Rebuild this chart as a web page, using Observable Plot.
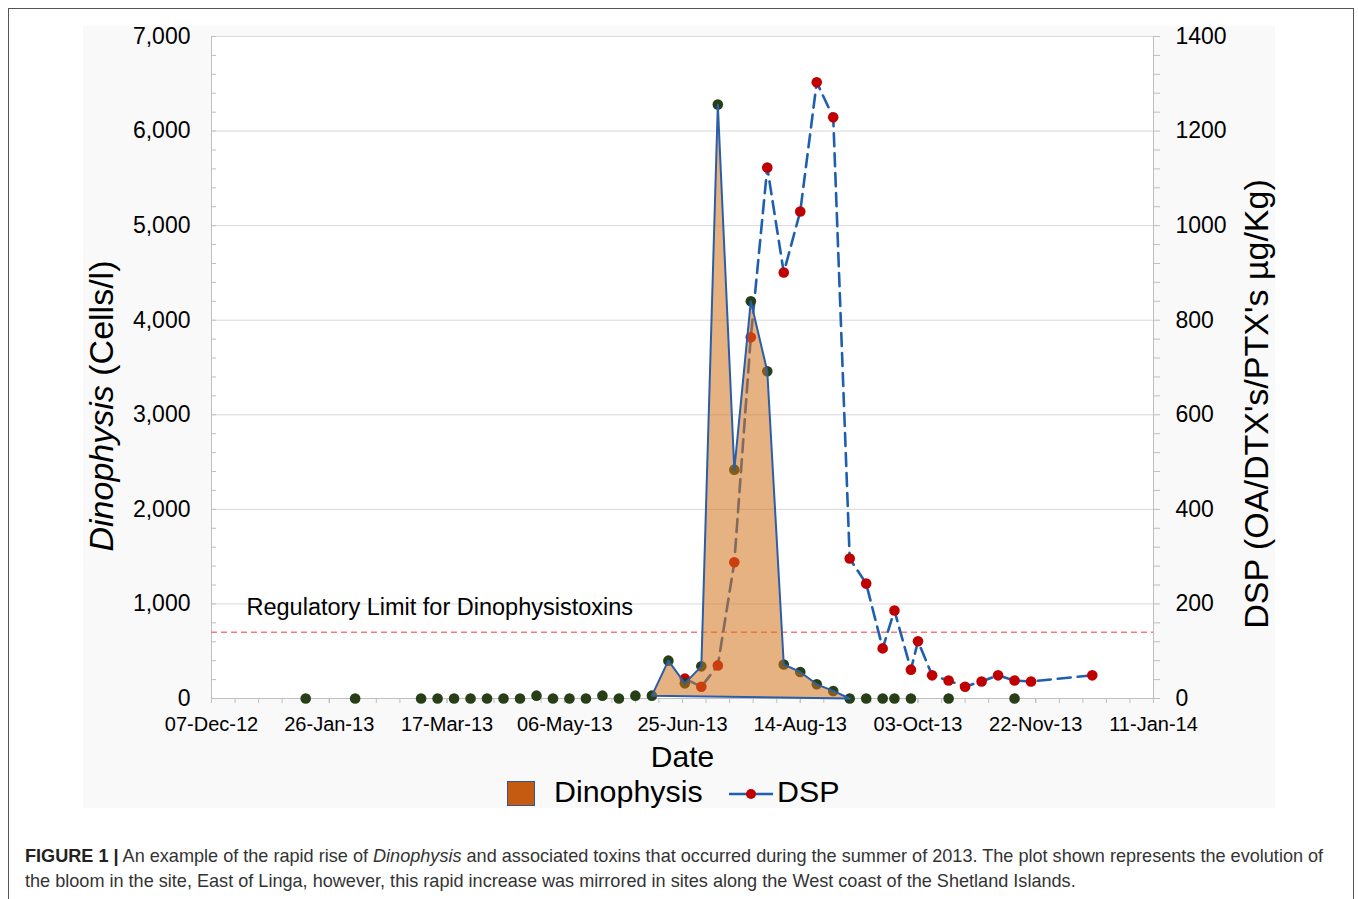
<!DOCTYPE html>
<html>
<head>
<meta charset="utf-8">
<script src="https://cdn.jsdelivr.net/npm/d3@7"></script>
<script src="https://cdn.jsdelivr.net/npm/@observablehq/plot@0.6"></script>
<style>
  body { margin: 0; background: #fff; font-family: 'Liberation Sans', Arial, sans-serif; }
  #frame { position: absolute; left: 8px; top: 8px; width: 1344px; height: 900px; border: 1px solid #555; border-bottom: none; }
  #panel { position: absolute; left: 83px; top: 26px; width: 1192px; height: 782px; background: #f9f9f9; }
  #chart { position: absolute; left: 0; top: -14px; }
  .ytitle { position: absolute; white-space: nowrap; transform: translate(-50%, -50%) rotate(-90deg); font-size: 34px; color: #000; }
  #legend { position: absolute; left: 0; top: 752px; width: 1192px; height: 30px; font-size: 30.4px; color: #000; }
  #caption { position: absolute; left: 25px; top: 844px; font-size: 18.1px; line-height: 25px; color: #333; white-space: nowrap; font-family: 'Liberation Sans', Arial, sans-serif; }
</style>
</head>
<body>
<div id="frame"></div>
<div id="panel">
  <div id="chart"></div>
  <div class="ytitle" style="left:18px; top:380px;"><i>Dinophysis</i> (Cells/l)</div>
  <div class="ytitle" style="left:1173px; top:378px;">DSP (OA/DTX's/PTX's µg/Kg)</div>
  <div id="legend">
    <div style="position:absolute; left:424px; top:3px; width:26px; height:23px; background:#c55a11; border:1.5px solid #2f5597;"></div>
    <div style="position:absolute; left:471px; top:-4px;">Dinophysis</div>
    <svg style="position:absolute; left:644px; top:4px;" width="50" height="24"><line x1="2" y1="12" x2="46" y2="12" stroke="#1f5fb0" stroke-width="2.5"/><circle cx="24" cy="12" r="5" fill="#c00000"/></svg>
    <div style="position:absolute; left:694px; top:-4px;">DSP</div>
  </div>
</div>
<div id="caption"><b style="color:#222">FIGURE 1 |</b> An example of the rapid rise of <i>Dinophysis</i> and associated toxins that occurred during the summer of 2013. The plot shown represents the evolution of<br>the bloom in the site, East of Linga, however, this rapid increase was mirrored in sites along the West coast of the Shetland Islands.</div>
<script>
// ---- data ----
const dinoDates = ["2013-01-16","2013-02-06","2013-03-06","2013-03-13","2013-03-20","2013-03-27","2013-04-03","2013-04-10","2013-04-17","2013-04-24","2013-05-01","2013-05-08","2013-05-15","2013-05-22","2013-05-29","2013-06-05","2013-06-12","2013-06-19","2013-06-26","2013-07-03","2013-07-10","2013-07-17","2013-07-24","2013-07-31","2013-08-07","2013-08-14","2013-08-21","2013-08-28","2013-09-04","2013-09-11","2013-09-18","2013-09-23","2013-09-30","2013-10-16","2013-11-13"];
const dinoValues = [0,0,0,0,0,0,0,0,0,30,0,0,0,30,0,30,30,400,160,340,6280,2420,4200,3460,360,280,150,80,0,0,0,0,0,0,0];
const bloomStart = "2013-06-12";
const bloomEnd = "2013-09-04";

const dspDates = ["2013-06-26","2013-07-03","2013-07-10","2013-07-17","2013-07-24","2013-07-31","2013-08-07","2013-08-14","2013-08-21","2013-08-28","2013-09-04","2013-09-11","2013-09-18","2013-09-23","2013-09-30","2013-10-03","2013-10-09","2013-10-16","2013-10-23","2013-10-30","2013-11-06","2013-11-13","2013-11-20","2013-12-16"];
const dspValues = [42,25,70,288,764,1123,901,1030,1303,1229,296,243,106,186,61,121,49,38,25,36,49,38,36,49];

const regLimitDSP = 140; // µg/kg, drawn on right axis
const regLabel = "Regulatory Limit for Dinophysistoxins";

const xStart = "2012-12-07";
const xEnd = "2014-01-11";
const leftTicks = [0,1000,2000,3000,4000,5000,6000,7000];
const rightTicks = [0,200,400,600,800,1000,1200,1400];
const axisRatio = 7000 / 1400; // left units per right unit

// ---- build ----
const parse = d3.utcParse("%Y-%m-%d");
const dino = dinoDates.map((d, i) => ({date: parse(d), value: dinoValues[i]}));
const dsp = dspDates.map((d, i) => ({date: parse(d), value: dspValues[i] * axisRatio}));
const bloom = dino.filter(d => d.date >= parse(bloomStart) && d.date <= parse(bloomEnd));
const bloomClosed = bloom.concat([bloom[0]]);

const x0 = parse(xStart), x1 = parse(xEnd);
const allDays = d3.utcDay.every(1).range(x0, d3.utcDay.offset(x1, 1));
const majorX = allDays.filter((d, i) => i % 50 === 0);
const minorX = allDays.filter((d, i) => i % 10 === 0);
const minorY = d3.range(0, 7001, 200);
const fmt = d3.utcFormat("%d-%b-%y");

const axisGray = "#bfbfbf";

const chart = Plot.plot({
  width: 1192,
  height: 766,
  marginLeft: 128,
  marginRight: 122,
  marginTop: 24,
  marginBottom: 80,
  style: {fontFamily: "'Liberation Sans', Arial, sans-serif", background: "transparent", color: "#000"},
  x: {type: "utc", domain: [x0, x1]},
  y: {domain: [0, 7000]},
  marks: [
    Plot.frame({fill: "white", stroke: null}),
    Plot.gridY(leftTicks, {stroke: "#d9d9d9", strokeOpacity: 1, strokeWidth: 1}),
    Plot.ruleX([x0, x1], {stroke: axisGray, strokeWidth: 1}),
    Plot.ruleY([0], {stroke: axisGray, strokeWidth: 1}),
    Plot.axisY(minorY, {anchor: "left", tickSize: -5, stroke: axisGray, tickFormat: () => "", label: null}),
    Plot.axisY(minorY, {anchor: "right", tickSize: 6, stroke: axisGray, tickFormat: () => "", label: null}),
    Plot.axisY(leftTicks, {anchor: "left", tickSize: 0, tickPadding: 21, fontSize: 23, tickFormat: d3.format(","), label: null}),
    Plot.axisY(rightTicks.map(v => v * axisRatio), {anchor: "right", tickSize: 0, tickPadding: 22, fontSize: 23, tickFormat: d => String(Math.round(d / axisRatio)), label: null}),
    Plot.axisX(minorX, {tickSize: 5, stroke: axisGray, tickFormat: () => "", label: null}),
    Plot.axisX(majorX, {tickSize: 5, stroke: axisGray, tickPadding: 13, fontSize: 20, tickFormat: fmt, label: null}),
    Plot.text(["Date"], {frameAnchor: "bottom", lineAnchor: "middle", dy: 59, fontSize: 30, fill: "#000"}),
    Plot.ruleY([regLimitDSP * axisRatio], {stroke: "#f47c7c", strokeWidth: 1.5, strokeDasharray: "6,4"}),
    Plot.text([regLabel], {frameAnchor: "left", y: regLimitDSP * axisRatio, dx: 35, dy: -25, textAnchor: "start", fontSize: 23.5, fill: "#000"}),
    Plot.line(dsp, {x: "date", y: "value", stroke: "#1f5fb0", strokeWidth: 2.6, strokeDasharray: "13,7"}),
    Plot.dot(dsp, {x: "date", y: "value", r: 5.3, fill: "#c00000", stroke: "none"}),
    Plot.dot(dino, {x: "date", y: "value", r: 5.3, fill: "#263f16", stroke: "none"}),
    Plot.line(bloomClosed, {x: "date", y: "value", fill: "#d4721c", fillOpacity: 0.55, stroke: "#2a5ea8", strokeWidth: 2})
  ]
});
document.getElementById("chart").appendChild(chart);
</script>
</body>
</html>
